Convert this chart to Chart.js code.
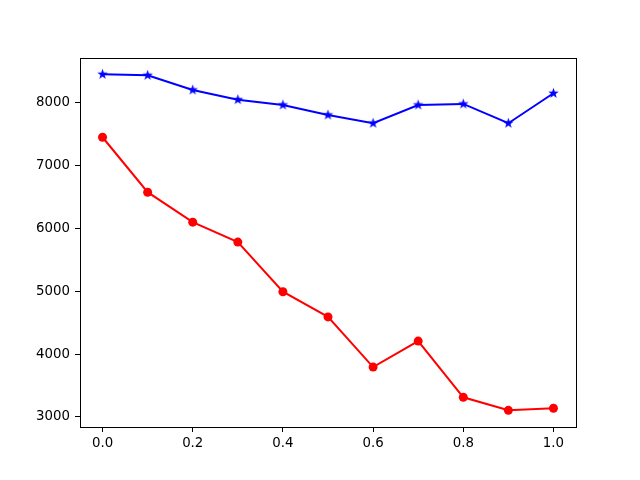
<!DOCTYPE html>
<html>
<head>
<meta charset="utf-8">
<script src="https://cdn.jsdelivr.net/npm/chart.js@4/dist/chart.umd.min.js"></script>
<style>
  html, body { margin: 0; padding: 0; background: #fff; }
  #wrap { width: 640px; height: 480px; }
</style>
</head>
<body>
<div id="wrap"><canvas id="chart" width="640" height="480"></canvas></div>
<script>
/* ===== DATA ===== */
const X_VALUES   = [0.0, 0.1, 0.2, 0.3, 0.4, 0.5, 0.6, 0.7, 0.8, 0.9, 1.0];
const BLUE_SERIES = [8444, 8428, 8195, 8041, 7957, 7798, 7667, 7957, 7973, 7667, 8143];
const RED_SERIES  = [7444, 6571, 6095, 5778, 4990, 4590, 3793, 4206, 3313, 3106, 3138];
const X_TICKS = [0.0, 0.2, 0.4, 0.6, 0.8, 1.0];
const Y_TICKS = [3000, 4000, 5000, 6000, 7000, 8000];

const FONT = { family: '"DejaVu Sans", sans-serif', size: 13.33 };

// filled star marker like matplotlib '*'
function makeStar(color, r) {
  const c = document.createElement('canvas');
  const s = Math.ceil(r * 2 + 2);
  c.width = s; c.height = s;
  const g = c.getContext('2d');
  g.fillStyle = color;
  g.beginPath();
  for (let i = 0; i < 10; i++) {
    const rad = i % 2 === 0 ? r : r * 0.4;
    const a = -Math.PI / 2 + i * Math.PI / 5;
    const px = s / 2 + rad * Math.cos(a), py = s / 2 + rad * Math.sin(a);
    if (i === 0) g.moveTo(px, py); else g.lineTo(px, py);
  }
  g.closePath();
  g.fill();
  return c;
}

const toPoints = (ys) => X_VALUES.map((x, i) => ({ x, y: ys[i] }));

/* ===== FRAME PLUGIN ===== */
const frame = {
  id: 'frame',
  afterDraw(chart) {
    const { ctx, chartArea: a } = chart;
    ctx.save();
    ctx.strokeStyle = '#000';
    ctx.lineWidth = 1;
    ctx.strokeRect(Math.round(a.left) + 0.5, Math.round(a.top) + 0.5,
      Math.round(a.right - a.left), Math.round(a.bottom - a.top));
    ctx.restore();
  }
};

new Chart(document.getElementById('chart'), {
  type: 'line',
  data: {
    datasets: [
      {
        data: toPoints(BLUE_SERIES),
        borderColor: '#0000ff',
        backgroundColor: '#0000ff',
        borderWidth: 2,
        pointStyle: makeStar('#0000ff', 5.5),
        pointRadius: 5,
        tension: 0,
      },
      {
        data: toPoints(RED_SERIES),
        borderColor: '#ff0000',
        backgroundColor: '#ff0000',
        borderWidth: 2,
        pointStyle: 'circle',
        pointRadius: 4.5,
        pointBorderWidth: 0,
        tension: 0,
      },
    ],
  },
  options: {
    responsive: false,
    animation: false,
    layout: { padding: { top: 58, right: 64, left: 0, bottom: 0 } },
    plugins: { legend: { display: false }, tooltip: { enabled: false } },
    scales: {
      x: {
        type: 'linear',
        min: -0.05,
        max: 1.05,
        afterFit(s) { s.height = 53; },
        afterBuildTicks(s) { s.ticks = X_TICKS.map(v => ({ value: v })); },
        grid: { drawOnChartArea: false, tickLength: 5, tickColor: '#000' },
        border: { display: false },
        ticks: { color: '#000', font: FONT, padding: 4, maxRotation: 0,
                 callback: (v) => Number(v).toFixed(1) },
      },
      y: {
        type: 'linear',
        min: 2841,
        max: 8703,
        afterFit(s) { s.width = 80; },
        afterBuildTicks(s) { s.ticks = Y_TICKS.map(v => ({ value: v })); },
        grid: { drawOnChartArea: false, tickLength: 5, tickColor: '#000' },
        border: { display: false },
        ticks: { color: '#000', font: FONT, padding: 5,
                 callback: (v) => String(v) },
      },
    },
  },
  plugins: [frame],
});
</script>
</body>
</html>
